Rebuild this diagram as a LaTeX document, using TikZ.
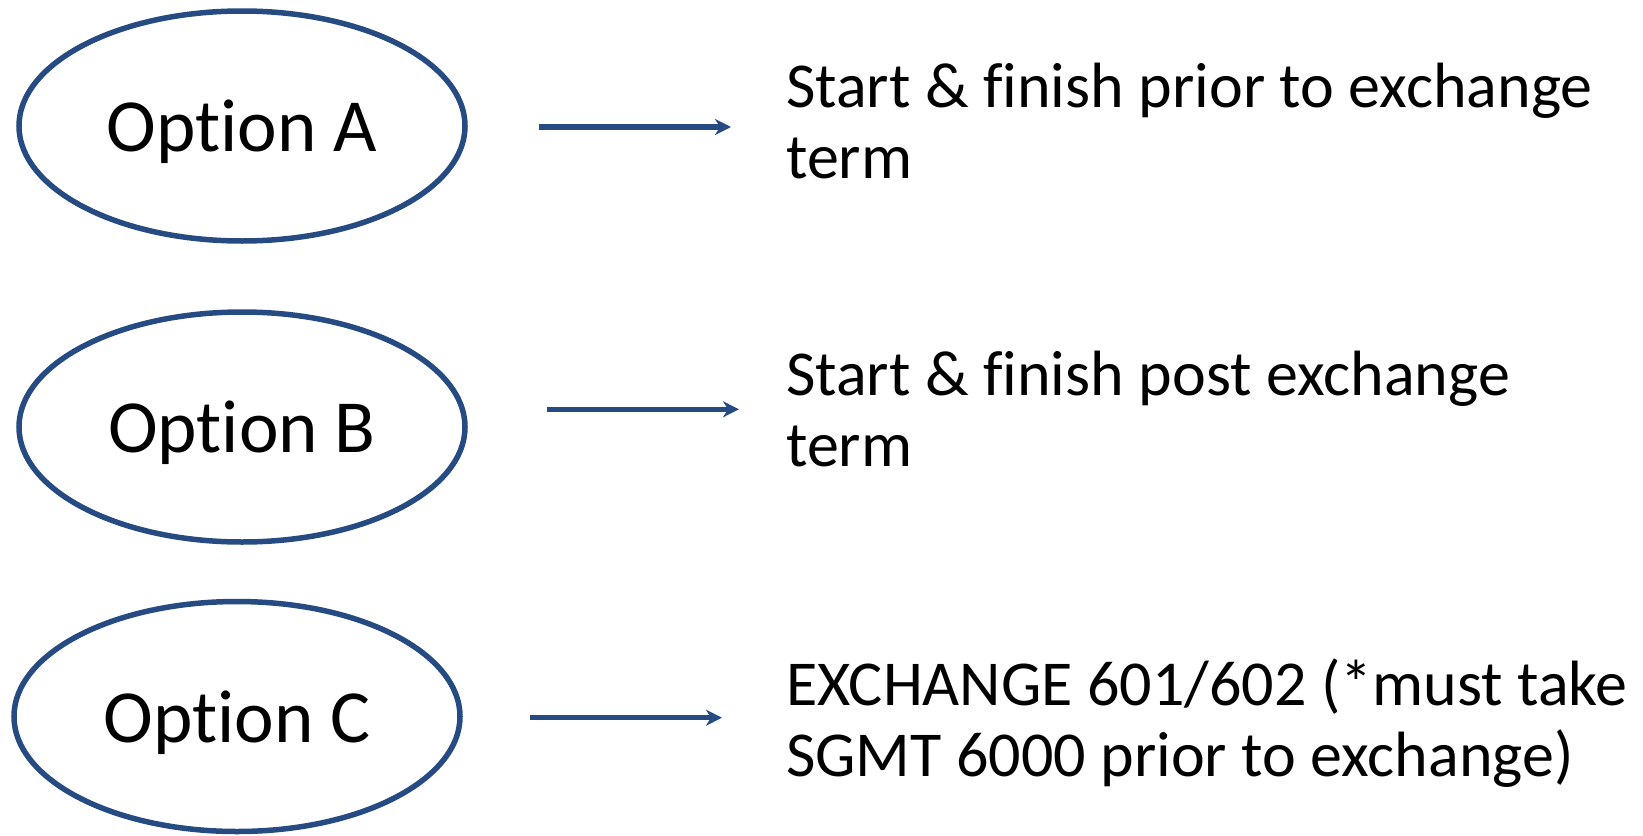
\documentclass[tikz,border=0pt]{standalone}
\usepackage{fontspec}
\setmainfont{Carlito}[Ligatures=NoCommon]
\usetikzlibrary{arrows.meta, positioning, shapes.geometric}
\definecolor{optblue}{RGB}{37,75,130}
\tikzset{
    option/.style={ellipse, draw=optblue, line width=5.5pt, minimum width=446pt, minimum height=230pt, inner sep=0pt, text depth=0pt, font=\fontsize{75}{80}\selectfont}, % the ellipses on the left
    desc/.style={anchor=base west, align=left, inner sep=0pt, font=\fontsize{64}{71}\selectfont}, % the text on the right, anchored at the last line
    link/.style={draw=optblue, line width=5.5pt, -{Stealth[length=16pt, width=16pt, inset=5pt]}}, % the arrows
}
\begin{document}
\begin{tikzpicture}[x=1pt, y=-1pt]
    \useasboundingbox (0,0) rectangle (1643,835);
    \node[option] (optA) at (242,126) {Option A};
    \node[option] (optB) at (242,427) {Option B};
    \node[option] (optC) at (237,716.5) {Option C};
    \node[desc] (descA) at (786,178.3) {Start \& finish prior to exchange\\term};
    \node[desc] (descB) at (786,466.7) {Start \& finish post exchange\\term};
    \node[desc] (descC) at (786,776.7) {EXCHANGE 601/602 (*must take\\SGMT 6000 prior to exchange)};
    \coordinate (a0) at (539,127);
    \coordinate (a1) at (731,127);
    \coordinate (b0) at (547,409.3);
    \coordinate (b1) at (739,409.3);
    \coordinate (c0) at (530,717.7);
    \coordinate (c1) at (722,717.7);
    \draw[link] (a0) -- (a1);
    \draw[link] (b0) -- (b1);
    \draw[link] (c0) -- (c1);
\end{tikzpicture}
\end{document}
